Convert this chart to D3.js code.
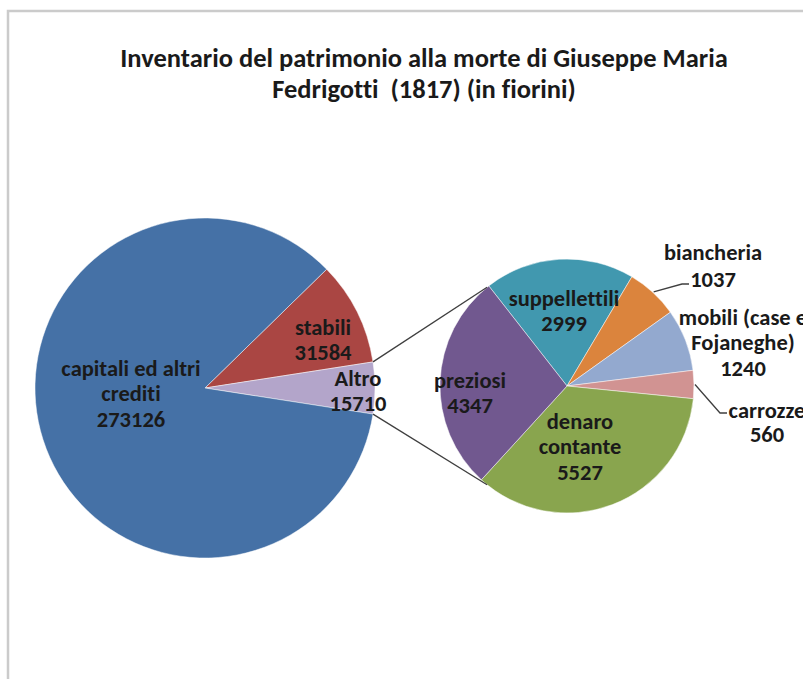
<!DOCTYPE html>
<html>
<head>
<meta charset="utf-8">
<script src="https://cdn.jsdelivr.net/npm/d3@7"></script>
<style>
  html, body { margin: 0; padding: 0; background: #fff; }
  svg { display: block; overflow: hidden; }
  text { font-family: Carlito, Lato, "Open Sans", sans-serif; font-weight: bold; fill: #1a1a1a;
         font-variant-ligatures: none; white-space: pre; }
</style>
</head>
<body>
<svg id="chart" width="803" height="679"></svg>
<script>
// main pie
let main_names  = ["stabili", "Altro", "capitali ed altri crediti"];
let main_values = [31584, 15710, 273126];
// secondary pie (detail of "Altro")
let sec_names  = ["suppellettili", "biancheria", "mobili (case e Fojaneghe)", "carrozze", "denaro contante", "preziosi"];
let sec_values = [2999, 1037, 1240, 560, 5527, 4347];

let main_colors = ["#AA4643", "#B3A5CA", "#4571A6"];
let sec_colors  = ["#4198AF", "#DB843D", "#93A9CF", "#D19392", "#89A54E", "#71588F"];

let svg = d3.select("#chart");
let W = 803, H = 679;

// frame
svg.append("path")
    .attr("d", "M8," + H + " V11 H" + (W + 5))
    .attr("fill", "none")
    .attr("stroke", "#cbcbcb")
    .attr("stroke-width", 2.5);

// title
let title = svg.append("text")
    .attr("text-anchor", "middle")
    .style("font-size", "26.5px");
title.append("tspan").attr("x", 424).attr("y", 67)
    .text("Inventario del patrimonio alla morte di Giuseppe Maria");
title.append("tspan").attr("x", 424).attr("y", 98)
    .text("Fedrigotti  (1817) (in fiorini)");

let deg = Math.PI / 180;

// ---- main pie
let mc = [205, 388], mr = 170;
let mainTotal = d3.sum(main_values);
let altroSpan = main_values[1] / mainTotal * 2 * Math.PI;
let mainStart = 90 * deg - altroSpan / 2 - main_values[0] / mainTotal * 2 * Math.PI;

let mainPie = d3.pie().sort(null).value(d => d)
    .startAngle(mainStart).endAngle(mainStart + 2 * Math.PI);
let mainArcs = mainPie(main_values);
let mainArc = d3.arc().innerRadius(0).outerRadius(mr);

let gMain = svg.append("g").attr("transform", "translate(" + mc + ")");
gMain.selectAll("path")
    .data(mainArcs)
    .enter().append("path")
    .attr("d", mainArc)
    .attr("fill", (d, i) => main_colors[i])
    .attr("stroke", "#ffffff")
    .attr("stroke-opacity", 0.6)
    .attr("stroke-width", 0.8);

// ---- secondary pie
let sc = [567, 386], sr = 127;
let secStart = -38 * deg;
let secPie = d3.pie().sort(null).value(d => d)
    .startAngle(secStart).endAngle(secStart + 2 * Math.PI);
let secArcs = secPie(sec_values);
let secArc = d3.arc().innerRadius(0).outerRadius(sr);

let gSec = svg.append("g").attr("transform", "translate(" + sc + ")");
gSec.selectAll("path")
    .data(secArcs)
    .enter().append("path")
    .attr("d", secArc)
    .attr("fill", (d, i) => sec_colors[i])
    .attr("stroke", "#ffffff")
    .attr("stroke-opacity", 0.6)
    .attr("stroke-width", 0.8);

// connector lines from "Altro" to the secondary pie
function onCircle(c, r, a){
    return [c[0] + r * Math.sin(a), c[1] - r * Math.cos(a)];
}
let altro = mainArcs[1];
let conn = [
    [onCircle(mc, mr, altro.startAngle), onCircle(sc, sr, -39 * deg)],
    [onCircle(mc, mr, altro.endAngle), onCircle(sc, sr, 219 * deg)]
];
svg.selectAll("line.conn")
    .data(conn)
    .enter().append("line")
    .attr("class", "conn")
    .attr("x1", d => d[0][0]).attr("y1", d => d[0][1])
    .attr("x2", d => d[1][0]).attr("y2", d => d[1][1])
    .attr("stroke", "#3f3f3f")
    .attr("stroke-width", 1.3);

// leader lines for small slices
let leaders = {
    "biancheria": [[682, 284], [689, 284]],
    "carrozze": [[720, 413], [727, 413]]
};
secArcs.forEach((d, i) => {
    let ld = leaders[sec_names[i]];
    if(!ld) return;
    let p = onCircle(sc, sr + 1, (d.startAngle + d.endAngle) / 2);
    svg.append("path")
        .attr("d", d3.line()([p].concat(ld)))
        .attr("fill", "none")
        .attr("stroke", "#3f3f3f")
        .attr("stroke-width", 1.3);
});

// data labels: lines of text + value
let labelLayout = {
    "capitali ed altri crediti": {x: 131, y: 368, lines: ["capitali ed altri", "crediti"]},
    "stabili": {x: 323, y: 327, lines: ["stabili"]},
    "Altro": {x: 358, y: 378, lines: ["Altro"]},
    "suppellettili": {x: 564, y: 298, lines: ["suppellettili"]},
    "biancheria": {x: 713, y: 252, lines: ["biancheria"], gap: 27},
    "mobili (case e Fojaneghe)": {x: 743, y: 317, lines: ["mobili (case e", "Fojaneghe)"]},
    "carrozze": {x: 767, y: 410, lines: ["carrozze"], gap: 24},
    "denaro contante": {x: 580, y: 421, lines: ["denaro", "contante"]},
    "preziosi": {x: 470, y: 380, lines: ["preziosi"]}
};

function drawLabel(name, value){
    let l = labelLayout[name];
    let gap = l.gap || 25.5;
    let t = svg.append("text")
        .attr("text-anchor", "middle")
        .style("font-size", "22.5px");
    l.lines.concat([String(value)]).forEach((s, k) => {
        t.append("tspan")
            .attr("x", l.x)
            .attr("y", l.y + k * gap)
            .attr("dy", "0.35em")
            .text(s);
    });
}
main_names.forEach((n, i) => drawLabel(n, main_values[i]));
sec_names.forEach((n, i) => drawLabel(n, sec_values[i]));
</script>
</body>
</html>
